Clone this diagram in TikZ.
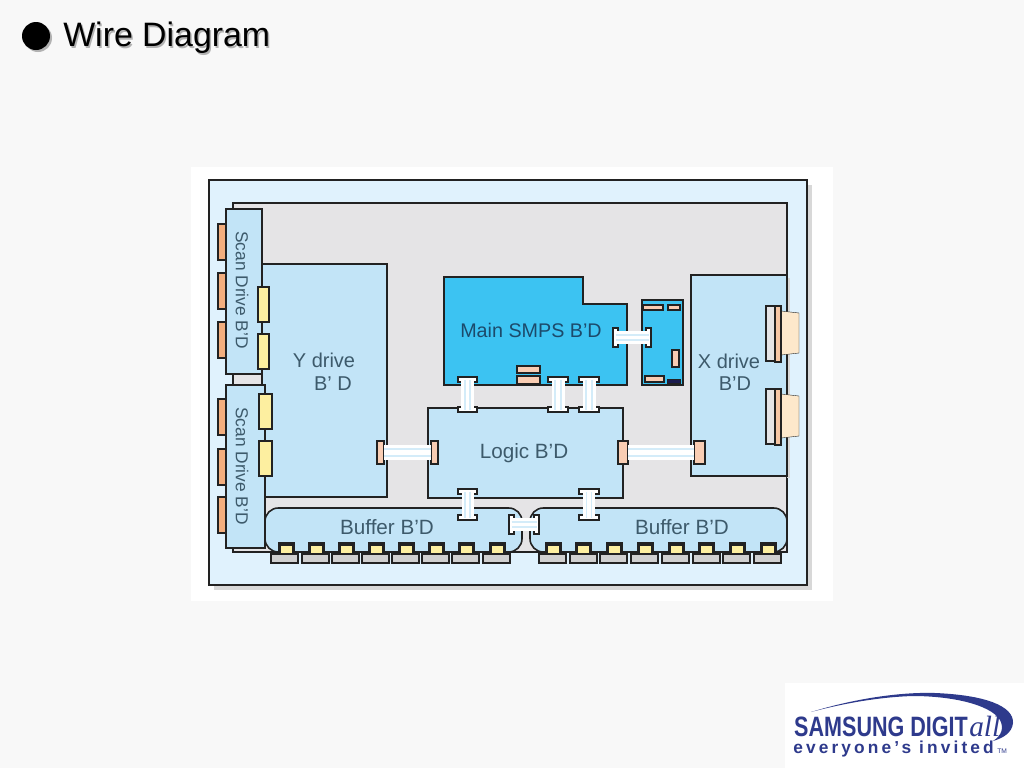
\documentclass[tikz,border=0pt]{standalone}
\usepackage{fontspec}
\setmainfont{Liberation Sans}
\newfontfamily\logoserif{Liberation Serif}
\usetikzlibrary{positioning}
\definecolor{pagebg}{HTML}{F8F8F8}
\definecolor{outerblue}{HTML}{E0F2FD}
\definecolor{panelgray}{HTML}{E5E4E6}
\definecolor{shadowgray}{HTML}{D8D8D8}
\definecolor{boardblue}{HTML}{C2E4F7}
\definecolor{smpsblue}{HTML}{3CC3F2}
\definecolor{tabpeach}{HTML}{F9CDB3}
\definecolor{taborange}{HTML}{F2AE7E}
\definecolor{pinyellow}{HTML}{FDEFA0}
\definecolor{creamy}{HTML}{FDE8CB}
\definecolor{pingray}{HTML}{D0D0D0}
\definecolor{inkdark}{HTML}{222222}
\definecolor{labelink}{HTML}{3D5A6B}
\definecolor{smpsink}{HTML}{1C4A6B}
\definecolor{logoblue}{HTML}{2E3A8C}

\begin{document}
\begin{tikzpicture}[
    x=0.75pt, y=-0.75pt,
    wh/.style 2 args={minimum width=#1*0.75pt, minimum height=#2*0.75pt},
    part/.style={rectangle, draw=inkdark, line width=1.2pt, inner sep=0pt,
                 outer sep=0pt, anchor=north west},
    board/.style={part, fill=boardblue},
    tab/.style={part, fill=taborange, line width=1pt},
    yellowtab/.style={part, fill=pinyellow},
    peachtab/.style={part, fill=tabpeach},
    lip/.style={part, fill=white, line width=1.4pt},
    label/.style={text=labelink, font=\fontsize{15}{17}\selectfont},
    scanlabel/.style={text=labelink, rotate=-90, font=\fontsize{13}{15}\selectfont},
    biglabel/.style={text=labelink, font=\fontsize{15.5}{17}\selectfont},
    ribbon/.style={draw=white, line width=#1*0.75pt,
                   postaction={draw=boardblue!70, line width=#1*0.42pt},
                   postaction={draw=white, line width=#1*0.22pt}},
    pinbase/.style={part, fill=pingray, line width=0.9pt, wh={27}{9}},
    pincap/.style={part, fill=inkdark, draw=none, wh={17}{11}},
    pinface/.style={part, fill=pinyellow, draw=none, wh={11}{7}},
]
    \useasboundingbox (0,0) rectangle (1024,768);
    \fill[pagebg] (0,0) rectangle (1024,768);

    % title
    \fill[gray!60] (38,38) circle (14);
    \fill[black] (36,36) circle (14);
    \node[anchor=base west, inner sep=0pt, text=gray!60, font=\fontsize{25.4}{28}\selectfont] (titleshadow) at (64.5,48) {Wire Diagram};
    \node[anchor=base west, inner sep=0pt, font=\fontsize{25.4}{28}\selectfont] (title) at (63,46.5) {Wire Diagram};

    % frame
    \fill[white] (191,167) rectangle (833,601);
    \fill[shadowgray] (214,185) rectangle (812,590);
    \node[part, fill=outerblue, wh={598}{405}] (frame) at (209,180) {};
    \node[part, fill=panelgray, wh={554}{349}] (panel) at (233,203) {};

    % boards
    \node[board, wh={125}{233}] (ydrive) at (262,264) {};
    \fill[shadowgray] (787,278) rectangle (790,478);
    \node[board, wh={96}{201}] (xdrive) at (691,275) {};
    \node[board, wh={195}{90}] (logic) at (428,408) {};
    \draw[draw=inkdark, line width=1.2pt, fill=smpsblue]
        (444,277) -- (583,277) -- (583,304) -- (627,304) -- (627,385) -- (444,385) -- cycle;
    \node[part, fill=smpsblue, wh={41}{85}] (subsmps) at (642,300) {};
    \node[board, wh={36}{165}] (scana) at (226,209) {};
    \node[board, wh={39}{163}] (scanb) at (226,385) {};
    \node[board, rounded corners=10pt, wh={257}{44}] (bufl) at (265,508) {};
    \node[board, rounded corners=10pt, wh={257}{44}] (bufr) at (530,508) {};

    % tabs on the scan boards
    \foreach \i/\y in {1/224, 2/273, 3/322} \node[tab, wh={8}{36}] (taba\i) at (218,\y) {};
    \foreach \i/\y in {1/399, 2/449, 3/497} \node[tab, wh={8}{36}] (tabb\i) at (218,\y) {};
    \node[yellowtab, wh={11}{35}] (ya1) at (258,287) {};
    \node[yellowtab, wh={11}{35}] (ya2) at (258,334) {};
    \node[yellowtab, wh={13}{35}] (yb1) at (259,394) {};
    \node[yellowtab, wh={13}{35}] (yb2) at (259,441) {};

    % parts on the smps boards
    \node[peachtab, wh={23}{7}] (pada) at (517,366) {};
    \node[peachtab, wh={23}{8}] (padb) at (517,376) {};
    \node[peachtab, line width=1pt, wh={20}{5}] (suba) at (643,305) {};
    \node[peachtab, line width=1pt, wh={12}{5}] (subb) at (668,305) {};
    \node[peachtab, line width=1pt, wh={7}{17}] (subc) at (672,350) {};
    \node[peachtab, line width=1pt, wh={19}{6}] (subd) at (645,376) {};
    \node[part, fill=inkdark!80!blue, line width=0.6pt, wh={13}{4}] (sube) at (667,379) {};

    % x drive sockets
    \fill[creamy, draw=inkdark, line width=0.3pt] (781,311) -- (799,313) -- (799,353) -- (781,355) -- cycle;
    \fill[creamy, draw=inkdark, line width=0.3pt] (781,394) -- (799,396) -- (799,436) -- (781,438) -- cycle;
    \node[part, fill=panelgray, wh={10}{55}] (sockaback) at (766,306) {};
    \node[part, fill=taborange!70, wh={6}{56}] (sockaface) at (775,306) {};
    \node[part, fill=panelgray, wh={10}{55}] (sockbback) at (766,389) {};
    \node[part, fill=taborange!70, wh={6}{56}] (sockbface) at (775,389) {};

    % ribbon ends
    \node[peachtab, wh={7}{23}] (yright) at (377,441) {};
    \node[peachtab, wh={7}{23}] (logleft) at (431,441) {};
    \node[peachtab, wh={10}{23}] (logright) at (618,441) {};
    \node[peachtab, wh={11}{23}] (xleft) at (694,441) {};
    \node[lip, wh={5}{19}] (smpsright) at (613,328) {};
    \node[lip, wh={5}{19}] (subleft) at (646,328) {};
    \node[lip, wh={5}{19}] (bufend) at (509,515) {};
    \node[lip, wh={5}{19}] (bufstart) at (534,515) {};
    \foreach \n/\x/\w in {a/458/19, b/548/20, c/579/20} {
        \node[lip, wh={\w}{5}] (smps\n) at (\x,377) {};
        \node[lip, wh={\w}{5}] (logtop\n) at (\x,407) {};
    }
    \foreach \n/\x/\w in {a/458/19, c/579/20} {
        \node[lip, wh={\w}{5}] (logbot\n) at (\x,489) {};
        \node[lip, wh={\w}{5}] (buf\n) at (\x,515) {};
    }

    % ribbons
    \draw[ribbon=15] (yright.east) -- (logleft.west);
    \draw[ribbon=15] (logright.east) -- (xleft.west);
    \draw[ribbon=13] (smpsright.center) -- (subleft.center);
    \draw[ribbon=13] (bufend.center) -- (bufstart.center);
    \draw[ribbon=13] (smpsa.center) -- (logtopa.center);
    \draw[ribbon=13] (smpsb.center) -- (logtopb.center);
    \draw[ribbon=13] (smpsc.center) -- (logtopc.center);
    \draw[ribbon=12] (logbota.center) -- (bufa.center);
    \draw[ribbon=12] (logbotc.center) -- (bufc.center);

    % pins of the buffer boards
    \foreach \i/\x/\b in {1/286/271, 2/316/302, 3/346/332, 4/376/362, 5/406/392, 6/436/422, 7/466/452, 8/497/483,
                          9/553/539, 10/583/570, 11/614/600, 12/645/631, 13/676/662, 14/706/693, 15/737/723, 16/768/754} {
        \node[pinbase] (base\i) at (\b,554) {};
        \node[pincap] (cap\i) at (\x-8.5,542) {};
        \node[pinface] (face\i) at (\x-5.5,546) {};
    }

    % labels
    \node[scanlabel] (scanatxt) at (242,290) {Scan Drive B'D};
    \node[scanlabel] (scanbtxt) at (242,466) {Scan Drive B'D};
    \node[label] (ytxta) at (324,360) {Y drive};
    \node[label] (ytxtb) at (333,384) {B' D};
    \node[label, text=smpsink, font=\fontsize{14.8}{17}\selectfont] (smpstxt) at (531,330) {Main SMPS B'D};
    \node[label] (xtxta) at (729,361) {X drive};
    \node[label] (xtxtb) at (735,384) {B'D};
    \node[biglabel] (logtxt) at (524,453) {Logic B'D};
    \node[biglabel] (buflt) at (387,527) {Buffer B'D};
    \node[biglabel] (bufrt) at (682,527) {Buffer B'D};

    % logo
    \fill[white] (785,683) rectangle (1024,768);
    \fill[logoblue] (811,712) .. controls (860,697) and (905,692) .. (935,693)
        .. controls (985,695) and (1014,706) .. (1013,723)
        .. controls (1012,733) and (1003,738) .. (993,741)
        .. controls (1002,735) and (1004,728) .. (1000,720)
        .. controls (990,704) and (950,696) .. (913,696)
        .. controls (880,697) and (845,703) .. (811,712) -- cycle;
    \node[anchor=base west, inner sep=0pt, text=logoblue, xscale=0.77, transform shape,
          font=\bfseries\fontsize{21}{23}\selectfont] (brand) at (794,736) {SAMSUNG DIGIT};
    \node[anchor=base west, inner sep=0pt, text=logoblue,
          font=\logoserif\itshape\fontsize{22}{24}\selectfont] (brandall) at (969,736) {all};
    \node[anchor=base west, inner sep=0pt, text=logoblue,
          font=\bfseries\fontsize{13}{15}\selectfont\addfontfeature{LetterSpace=18}] (slogan) at (793,753) {everyone's invited};
    \node[anchor=base west, inner sep=0pt, text=logoblue, font=\fontsize{5}{6}\selectfont] (trademark) at (997,753) {TM};
\end{tikzpicture}
\end{document}
